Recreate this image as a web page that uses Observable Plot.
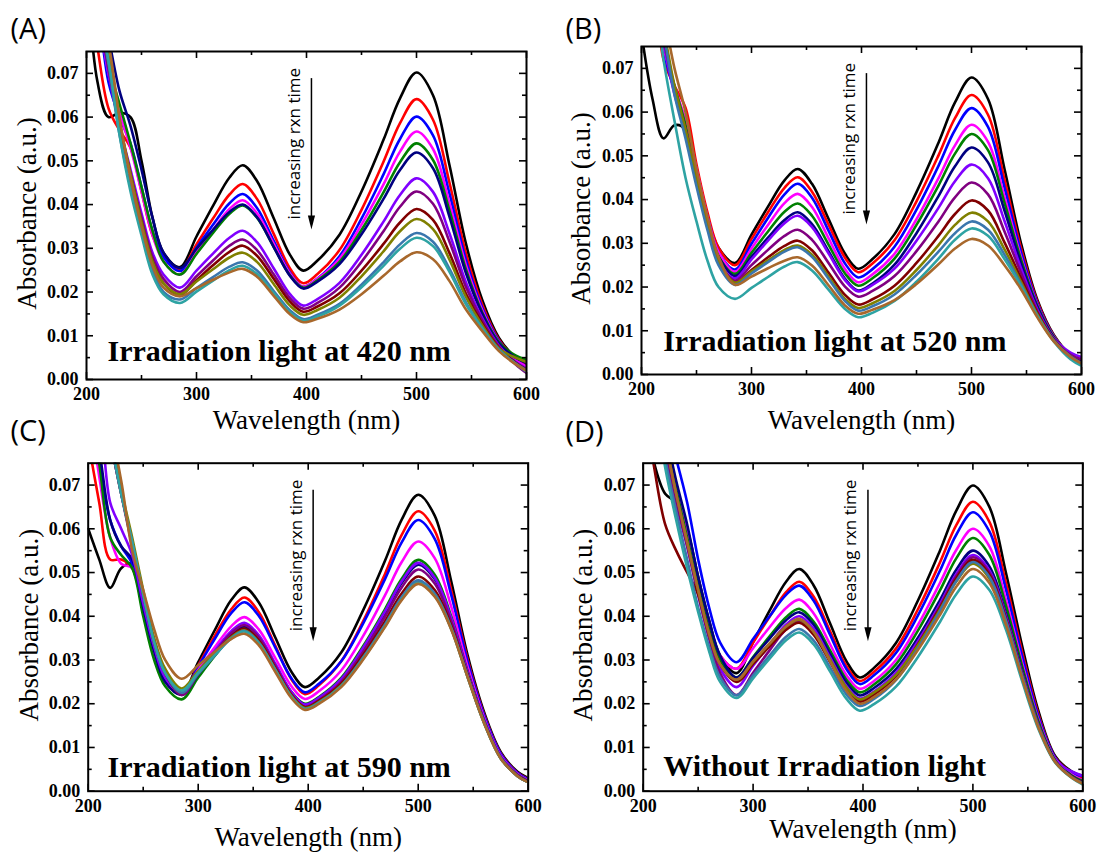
<!DOCTYPE html>
<html>
<head>
<meta charset="utf-8">
<script src="https://cdn.jsdelivr.net/npm/d3@7"></script>
<script src="https://cdn.jsdelivr.net/npm/@observablehq/plot@0.6"></script>
<style>
  html, body { margin: 0; padding: 0; background: #ffffff; }
  #fig { position: relative; width: 1099px; height: 852px; overflow: hidden; background: #ffffff; }
  #fig svg { position: absolute; }
</style>
</head>
<body>
<div id="fig"></div>
<script>
// Sampling wavelengths (nm) shared by every recorded spectrum
const wavelengths = [200,210,220,230,240,250,260,270,285,300,315,330,342,355,370,385,397,410,430,450,470,485,500,515,530,545,560,575,590,600];

// One colour per scan, in acquisition order (earliest first)
const seriesColors = ["#000000","#ff0000","#0000ff","#ff00ff","#008000","#000080","#8000ff","#800080","#800000","#808000","#3a76ad","#2ea3a3","#a8682c"];

// (A) irradiation at 420 nm — absorbance per scan
const spectraA = [
  [0.095,0.068,0.060,0.061,0.060,0.050,0.037,0.029,0.0257,0.0327,0.0397,0.0462,0.0490,0.0454,0.0370,0.0285,0.0249,0.0272,0.0331,0.0430,0.0548,0.0643,0.0702,0.0650,0.0490,0.0310,0.0180,0.0095,0.0050,0.0033],
  [0.095,0.076,0.062,0.057,0.053,0.043,0.033,0.028,0.0250,0.0309,0.0368,0.0423,0.0447,0.0413,0.0334,0.0254,0.0220,0.0241,0.0296,0.0388,0.0498,0.0586,0.0641,0.0594,0.0450,0.0288,0.0170,0.0091,0.0048,0.0031],
  [0.095,0.085,0.068,0.060,0.054,0.044,0.034,0.028,0.0248,0.0301,0.0354,0.0403,0.0424,0.0392,0.0318,0.0244,0.0212,0.0231,0.0282,0.0368,0.0469,0.0550,0.0601,0.0558,0.0425,0.0273,0.0163,0.0088,0.0046,0.0030],
  [0.095,0.085,0.070,0.061,0.053,0.043,0.033,0.027,0.0240,0.0291,0.0342,0.0390,0.0410,0.0380,0.0311,0.0242,0.0212,0.0230,0.0276,0.0354,0.0446,0.0521,0.0567,0.0527,0.0403,0.0261,0.0157,0.0085,0.0045,0.0029],
  [0.095,0.085,0.072,0.063,0.054,0.044,0.034,0.027,0.0240,0.0287,0.0335,0.0379,0.0398,0.0370,0.0304,0.0238,0.0210,0.0227,0.0269,0.0342,0.0428,0.0497,0.0540,0.0502,0.0386,0.0251,0.0152,0.0085,0.0055,0.0045],
  [0.095,0.088,0.078,0.066,0.058,0.048,0.037,0.029,0.0255,0.0299,0.0342,0.0383,0.0400,0.0371,0.0304,0.0237,0.0208,0.0224,0.0264,0.0332,0.0413,0.0479,0.0519,0.0483,0.0372,0.0243,0.0149,0.0082,0.0050,0.0038],
  [0.095,0.085,0.070,0.058,0.048,0.038,0.029,0.024,0.0210,0.0249,0.0288,0.0324,0.0340,0.0314,0.0255,0.0195,0.0169,0.0184,0.0221,0.0285,0.0361,0.0422,0.0460,0.0429,0.0334,0.0222,0.0139,0.0077,0.0041,0.0025],
  [0.095,0.085,0.071,0.058,0.047,0.037,0.028,0.023,0.0200,0.0236,0.0272,0.0306,0.0320,0.0296,0.0241,0.0186,0.0162,0.0175,0.0210,0.0269,0.0339,0.0395,0.0430,0.0402,0.0315,0.0211,0.0134,0.0075,0.0035,0.0015],
  [0.095,0.085,0.072,0.058,0.047,0.036,0.027,0.022,0.0193,0.0227,0.0261,0.0292,0.0306,0.0283,0.0231,0.0178,0.0155,0.0167,0.0197,0.0249,0.0310,0.0359,0.0390,0.0365,0.0289,0.0196,0.0127,0.0072,0.0039,0.0023],
  [0.095,0.085,0.074,0.059,0.047,0.036,0.027,0.022,0.0195,0.0224,0.0252,0.0279,0.0290,0.0269,0.0219,0.0169,0.0148,0.0159,0.0187,0.0236,0.0293,0.0339,0.0367,0.0344,0.0274,0.0188,0.0123,0.0071,0.0050,0.0040],
  [0.095,0.085,0.072,0.056,0.044,0.034,0.025,0.020,0.0183,0.0209,0.0234,0.0258,0.0268,0.0249,0.0203,0.0158,0.0138,0.0148,0.0173,0.0217,0.0268,0.0309,0.0335,0.0315,0.0253,0.0176,0.0117,0.0068,0.0037,0.0021],
  [0.095,0.085,0.073,0.056,0.043,0.033,0.024,0.0195,0.0175,0.0201,0.0226,0.0250,0.0260,0.0241,0.0198,0.0154,0.0135,0.0144,0.0169,0.0211,0.0260,0.0299,0.0324,0.0305,0.0246,0.0172,0.0116,0.0067,0.0036,0.0018],
  [0.095,0.088,0.077,0.060,0.046,0.035,0.026,0.021,0.0190,0.0209,0.0228,0.0245,0.0253,0.0235,0.0192,0.0149,0.0131,0.0139,0.0160,0.0195,0.0237,0.0270,0.0291,0.0275,0.0225,0.0160,0.0110,0.0065,0.0035,0.0020]
];

// (B) irradiation at 520 nm
const spectraB = [
  [0.078,0.063,0.054,0.057,0.056,0.046,0.036,0.029,0.0255,0.0320,0.0384,0.0444,0.0470,0.0436,0.0356,0.0276,0.0242,0.0264,0.0321,0.0417,0.0530,0.0622,0.0679,0.0630,0.0470,0.0300,0.0170,0.0090,0.0045,0.0030],
  [0.095,0.090,0.072,0.066,0.061,0.048,0.037,0.029,0.0250,0.0310,0.0371,0.0427,0.0451,0.0418,0.0343,0.0267,0.0234,0.0254,0.0307,0.0396,0.0501,0.0586,0.0639,0.0594,0.0446,0.0289,0.0166,0.0088,0.0044,0.0029],
  [0.095,0.090,0.074,0.065,0.058,0.046,0.036,0.028,0.0240,0.0299,0.0358,0.0412,0.0436,0.0404,0.0329,0.0254,0.0222,0.0241,0.0292,0.0377,0.0477,0.0559,0.0609,0.0566,0.0428,0.0280,0.0162,0.0087,0.0044,0.0029],
  [0.095,0.090,0.075,0.066,0.058,0.047,0.036,0.028,0.0235,0.0288,0.0342,0.0392,0.0413,0.0383,0.0312,0.0241,0.0211,0.0229,0.0276,0.0355,0.0449,0.0524,0.0571,0.0532,0.0406,0.0269,0.0158,0.0086,0.0044,0.0029],
  [0.095,0.090,0.076,0.066,0.057,0.046,0.035,0.027,0.0230,0.0278,0.0327,0.0372,0.0391,0.0363,0.0297,0.0231,0.0203,0.0220,0.0265,0.0342,0.0432,0.0505,0.0550,0.0513,0.0393,0.0263,0.0156,0.0085,0.0043,0.0028],
  [0.095,0.090,0.077,0.065,0.056,0.045,0.035,0.027,0.0225,0.0269,0.0313,0.0353,0.0371,0.0344,0.0282,0.0219,0.0192,0.0208,0.0251,0.0323,0.0408,0.0476,0.0519,0.0485,0.0375,0.0254,0.0153,0.0083,0.0043,0.0028],
  [0.095,0.090,0.076,0.064,0.056,0.045,0.034,0.026,0.0220,0.0263,0.0306,0.0346,0.0363,0.0337,0.0277,0.0216,0.0190,0.0205,0.0242,0.0306,0.0381,0.0442,0.0480,0.0449,0.0351,0.0243,0.0148,0.0082,0.0050,0.0040],
  [0.095,0.090,0.077,0.065,0.055,0.044,0.034,0.026,0.0215,0.0250,0.0285,0.0317,0.0331,0.0308,0.0255,0.0201,0.0178,0.0191,0.0225,0.0282,0.0350,0.0405,0.0439,0.0412,0.0327,0.0232,0.0144,0.0080,0.0045,0.0035],
  [0.095,0.090,0.078,0.065,0.056,0.044,0.034,0.026,0.0210,0.0239,0.0268,0.0294,0.0306,0.0284,0.0233,0.0182,0.0160,0.0172,0.0203,0.0255,0.0317,0.0367,0.0398,0.0375,0.0302,0.0220,0.0140,0.0079,0.0041,0.0026],
  [0.095,0.090,0.079,0.066,0.056,0.045,0.034,0.026,0.0210,0.0236,0.0261,0.0285,0.0295,0.0274,0.0224,0.0173,0.0152,0.0163,0.0191,0.0239,0.0296,0.0342,0.0370,0.0350,0.0286,0.0212,0.0137,0.0077,0.0041,0.0026],
  [0.095,0.090,0.078,0.064,0.054,0.043,0.033,0.025,0.0205,0.0231,0.0257,0.0281,0.0291,0.0269,0.0219,0.0168,0.0146,0.0156,0.0183,0.0228,0.0281,0.0323,0.0350,0.0331,0.0274,0.0206,0.0134,0.0077,0.0041,0.0026],
  [0.095,0.090,0.072,0.058,0.045,0.035,0.026,0.020,0.0173,0.0198,0.0223,0.0247,0.0257,0.0238,0.0194,0.0150,0.0131,0.0141,0.0168,0.0212,0.0265,0.0308,0.0334,0.0317,0.0264,0.0202,0.0133,0.0075,0.0035,0.0020],
  [0.095,0.090,0.082,0.070,0.060,0.047,0.036,0.027,0.0205,0.0224,0.0243,0.0260,0.0268,0.0249,0.0204,0.0158,0.0139,0.0148,0.0170,0.0207,0.0252,0.0288,0.0310,0.0295,0.0250,0.0195,0.0130,0.0075,0.0040,0.0025]
];

// (C) irradiation at 590 nm
const spectraC = [
  [0.060,0.053,0.0465,0.051,0.052,0.042,0.032,0.026,0.0222,0.0295,0.0368,0.0437,0.0466,0.0432,0.0352,0.0272,0.0238,0.0260,0.0317,0.0414,0.0528,0.0621,0.0678,0.0630,0.0480,0.0310,0.0180,0.0090,0.0045,0.0030],
  [0.080,0.066,0.053,0.053,0.051,0.041,0.031,0.025,0.0222,0.0288,0.0355,0.0416,0.0443,0.0410,0.0333,0.0255,0.0222,0.0243,0.0297,0.0389,0.0498,0.0586,0.0640,0.0596,0.0460,0.0301,0.0175,0.0087,0.0043,0.0028],
  [0.090,0.075,0.062,0.056,0.052,0.042,0.032,0.026,0.0222,0.0285,0.0348,0.0407,0.0432,0.0401,0.0329,0.0257,0.0226,0.0246,0.0297,0.0384,0.0486,0.0569,0.0620,0.0577,0.0449,0.0296,0.0173,0.0086,0.0042,0.0027],
  [0.090,0.072,0.058,0.052,0.051,0.041,0.031,0.025,0.0225,0.0277,0.0329,0.0377,0.0398,0.0370,0.0305,0.0239,0.0211,0.0229,0.0276,0.0355,0.0449,0.0524,0.0571,0.0533,0.0422,0.0284,0.0167,0.0082,0.0040,0.0025],
  [0.090,0.075,0.058,0.054,0.051,0.040,0.030,0.024,0.0210,0.0260,0.0309,0.0355,0.0375,0.0349,0.0288,0.0226,0.0200,0.0216,0.0259,0.0332,0.0417,0.0486,0.0529,0.0495,0.0400,0.0274,0.0162,0.0079,0.0038,0.0023],
  [0.090,0.078,0.062,0.056,0.053,0.042,0.032,0.025,0.0220,0.0267,0.0315,0.0359,0.0378,0.0351,0.0288,0.0225,0.0198,0.0214,0.0256,0.0326,0.0409,0.0476,0.0518,0.0485,0.0394,0.0271,0.0160,0.0078,0.0037,0.0022],
  [0.090,0.085,0.066,0.060,0.054,0.043,0.033,0.026,0.0225,0.0273,0.0321,0.0366,0.0385,0.0357,0.0292,0.0226,0.0198,0.0214,0.0256,0.0328,0.0412,0.0480,0.0522,0.0488,0.0396,0.0272,0.0161,0.0079,0.0037,0.0022],
  [0.090,0.090,0.080,0.068,0.056,0.045,0.034,0.027,0.0220,0.0268,0.0316,0.0361,0.0380,0.0352,0.0287,0.0221,0.0193,0.0209,0.0250,0.0319,0.0400,0.0466,0.0507,0.0475,0.0388,0.0268,0.0159,0.0077,0.0037,0.0022],
  [0.090,0.090,0.080,0.068,0.057,0.045,0.034,0.027,0.0225,0.0269,0.0313,0.0354,0.0372,0.0345,0.0282,0.0219,0.0192,0.0207,0.0246,0.0312,0.0389,0.0452,0.0491,0.0460,0.0379,0.0264,0.0157,0.0076,0.0036,0.0021],
  [0.090,0.090,0.082,0.069,0.058,0.046,0.035,0.028,0.0235,0.0275,0.0315,0.0352,0.0368,0.0341,0.0279,0.0217,0.0190,0.0204,0.0242,0.0305,0.0380,0.0441,0.0478,0.0449,0.0372,0.0261,0.0156,0.0075,0.0035,0.0020],
  [0.090,0.090,0.080,0.068,0.057,0.045,0.034,0.027,0.0225,0.0268,0.0310,0.0350,0.0367,0.0340,0.0278,0.0215,0.0188,0.0203,0.0241,0.0306,0.0382,0.0444,0.0482,0.0452,0.0374,0.0262,0.0156,0.0076,0.0035,0.0020],
  [0.090,0.090,0.081,0.068,0.057,0.045,0.034,0.027,0.0230,0.0271,0.0311,0.0349,0.0365,0.0338,0.0277,0.0215,0.0188,0.0202,0.0240,0.0303,0.0378,0.0439,0.0476,0.0447,0.0371,0.0260,0.0155,0.0075,0.0035,0.0020],
  [0.090,0.090,0.083,0.071,0.055,0.046,0.037,0.030,0.0257,0.0288,0.0319,0.0348,0.0360,0.0334,0.0273,0.0212,0.0186,0.0200,0.0238,0.0301,0.0376,0.0437,0.0474,0.0445,0.0370,0.0260,0.0155,0.0075,0.0035,0.0020]
];

// (D) kept in the dark
const spectraD = [
  [0.090,0.075,0.068,0.066,0.060,0.049,0.039,0.031,0.0270,0.0341,0.0413,0.0479,0.0508,0.0471,0.0384,0.0297,0.0260,0.0282,0.0339,0.0436,0.0550,0.0642,0.0699,0.0650,0.0500,0.0330,0.0180,0.0080,0.0045,0.0035],
  [0.090,0.090,0.078,0.068,0.059,0.048,0.038,0.031,0.0280,0.0340,0.0399,0.0455,0.0479,0.0445,0.0366,0.0286,0.0252,0.0273,0.0326,0.0416,0.0523,0.0609,0.0662,0.0616,0.0477,0.0316,0.0173,0.0077,0.0042,0.0031],
  [0.090,0.090,0.085,0.076,0.066,0.053,0.042,0.034,0.0295,0.0348,0.0400,0.0449,0.0470,0.0436,0.0358,0.0279,0.0245,0.0265,0.0316,0.0402,0.0504,0.0587,0.0638,0.0594,0.0462,0.0307,0.0168,0.0076,0.0041,0.0035],
  [0.090,0.090,0.080,0.069,0.059,0.048,0.038,0.031,0.0280,0.0327,0.0375,0.0419,0.0438,0.0407,0.0336,0.0265,0.0234,0.0252,0.0300,0.0380,0.0476,0.0552,0.0600,0.0560,0.0438,0.0292,0.0161,0.0073,0.0038,0.0025],
  [0.090,0.090,0.080,0.069,0.058,0.047,0.037,0.030,0.0260,0.0307,0.0354,0.0398,0.0417,0.0388,0.0322,0.0255,0.0226,0.0244,0.0290,0.0367,0.0459,0.0533,0.0579,0.0540,0.0425,0.0284,0.0157,0.0071,0.0036,0.0023],
  [0.090,0.090,0.082,0.071,0.061,0.049,0.039,0.031,0.0260,0.0305,0.0349,0.0391,0.0409,0.0381,0.0314,0.0248,0.0219,0.0236,0.0279,0.0351,0.0437,0.0507,0.0550,0.0514,0.0407,0.0273,0.0151,0.0069,0.0034,0.0020],
  [0.090,0.090,0.078,0.066,0.056,0.045,0.035,0.028,0.0238,0.0287,0.0335,0.0381,0.0400,0.0372,0.0306,0.0240,0.0212,0.0228,0.0271,0.0343,0.0428,0.0497,0.0540,0.0505,0.0401,0.0269,0.0149,0.0069,0.0045,0.0035],
  [0.090,0.090,0.078,0.066,0.056,0.045,0.035,0.027,0.0220,0.0271,0.0322,0.0370,0.0390,0.0362,0.0298,0.0233,0.0205,0.0222,0.0264,0.0337,0.0423,0.0492,0.0535,0.0500,0.0398,0.0267,0.0148,0.0068,0.0033,0.0019],
  [0.090,0.074,0.061,0.055,0.050,0.045,0.036,0.029,0.0250,0.0291,0.0331,0.0369,0.0385,0.0358,0.0295,0.0232,0.0205,0.0221,0.0263,0.0335,0.0419,0.0487,0.0529,0.0495,0.0394,0.0265,0.0147,0.0068,0.0033,0.0019],
  [0.090,0.090,0.080,0.068,0.057,0.046,0.036,0.029,0.0255,0.0296,0.0337,0.0376,0.0392,0.0365,0.0301,0.0237,0.0210,0.0226,0.0266,0.0334,0.0415,0.0480,0.0520,0.0486,0.0388,0.0261,0.0146,0.0067,0.0032,0.0018],
  [0.090,0.090,0.076,0.064,0.053,0.042,0.033,0.026,0.0219,0.0265,0.0310,0.0353,0.0371,0.0345,0.0283,0.0221,0.0195,0.0211,0.0254,0.0327,0.0412,0.0481,0.0524,0.0490,0.0391,0.0263,0.0146,0.0067,0.0032,0.0018],
  [0.090,0.090,0.074,0.062,0.051,0.041,0.032,0.025,0.0213,0.0258,0.0303,0.0345,0.0363,0.0336,0.0274,0.0211,0.0184,0.0199,0.0239,0.0307,0.0387,0.0451,0.0491,0.0460,0.0370,0.0250,0.0140,0.0065,0.0030,0.0015],
  [0.090,0.090,0.080,0.068,0.057,0.046,0.036,0.029,0.0255,0.0297,0.0338,0.0377,0.0394,0.0365,0.0297,0.0229,0.0200,0.0215,0.0255,0.0323,0.0403,0.0468,0.0508,0.0476,0.0381,0.0257,0.0143,0.0066,0.0031,0.0017]
];

// Axis ticks
const xMajor = [200, 300, 400, 500, 600];
const xMinor = [250, 350, 450, 550];
const yMajor = [0, 0.01, 0.02, 0.03, 0.04, 0.05, 0.06, 0.07];
const yMinor = [0.005, 0.015, 0.025, 0.035, 0.045, 0.055, 0.065];

// Panel texts
const panelTags = ["(A)", "(B)", "(C)", "(D)"];
const panelTitles = ["Irradiation light at 420 nm", "Irradiation light at 520 nm", "Irradiation light at 590 nm", "Without Irradiation light"];
const xTitle = "Wavelength (nm)";
const yTitle = "Absorbance (a.u.)";

// "increasing rxn time" note: label centre (nm, a.u.) and arrow (nm, from a.u., to a.u.)
const noteText = ["increasing rxn time"];
const noteAt = [389, 0.0539];
const arrowSpan = [404.5, 0.0688, 0.0343];

// Placement of each panel on the page
const layout = [
  {left: 0,   top: 0,   width: 549, ml: 86,   mt: 51,   mr: 23,   mb: 47,   yTitleDx: -59, xTitleDy: 49,   titleDx: 21,   titleDy: -19,   tagDx: -76,   tagDy: -12.5},
  {left: 549, top: 0,   width: 550, ml: 92,   mt: 46,   mr: 18,   mb: 52,   yTitleDx: -60, xTitleDy: 54,   titleDx: 21.7, titleDy: -24,   tagDx: -76,   tagDy: -7.5},
  {left: 0,   top: 426, width: 549, ml: 87.7, mt: 36.7, mr: 21.3, mb: 61.3, yTitleDx: -59, xTitleDy: 54.5, titleDx: 19.3, titleDy: -14,   tagDx: -77.7, tagDy: -22},
  {left: 549, top: 426, width: 550, ml: 93.7, mt: 36.7, mr: 16.7, mb: 61.3, yTitleDx: -60, xTitleDy: 47,   titleDx: 20,   titleDy: -15.7, tagDx: -77.7, tagDy: -21}
];
const panelHeight = 426;

// Filled, narrow arrowhead whose tip sits on the anchor point
const arrowHead = {
  draw(context) {
    context.moveTo(0, 0);
    context.lineTo(-3.6, -14);
    context.lineTo(3.6, -14);
    context.closePath();
  }
};

const serif = "Liberation Serif";
const sans = "Open Sans";

function drawPanel(spectra, p) {
  const L = layout[p];
  const innerW = L.width - L.ml - L.mr;
  const innerH = panelHeight - L.mt - L.mb;
  const major = 7, minor = 4;

  const curves = spectra.map((values, i) =>
    Plot.line(values, {
      x: (d, j) => wavelengths[j],
      y: d => d,
      stroke: seriesColors[i],
      strokeWidth: 2.6,
      curve: "catmull-rom",
      clip: true
    })
  );

  return Plot.plot({
    width: L.width,
    height: panelHeight,
    marginLeft: L.ml,
    marginRight: L.mr,
    marginTop: L.mt,
    marginBottom: L.mb,
    style: {fontFamily: serif, color: "#000", background: "transparent", overflow: "visible"},
    x: {domain: [200, 600]},
    y: {domain: [0, 0.075]},
    marks: [
      ...curves,
      // inward ticks on all four sides
      Plot.tickX(xMajor, {x: d => d, insetTop: innerH - major, strokeWidth: 1.6}),
      Plot.tickX(xMajor, {x: d => d, insetBottom: innerH - major, strokeWidth: 1.6}),
      Plot.tickX(xMinor, {x: d => d, insetTop: innerH - minor, strokeWidth: 1.6}),
      Plot.tickX(xMinor, {x: d => d, insetBottom: innerH - minor, strokeWidth: 1.6}),
      Plot.tickY(yMajor, {y: d => d, insetRight: innerW - major, strokeWidth: 1.6}),
      Plot.tickY(yMajor, {y: d => d, insetLeft: innerW - major, strokeWidth: 1.6}),
      Plot.tickY(yMinor, {y: d => d, insetRight: innerW - minor, strokeWidth: 1.6}),
      Plot.tickY(yMinor, {y: d => d, insetLeft: innerW - minor, strokeWidth: 1.6}),
      Plot.frame({stroke: "#000", strokeWidth: 2}),
      // tick labels
      Plot.axisX({ticks: xMajor, tickSize: 0, tickPadding: 8, tickFormat: d => String(d), label: null,
        fontFamily: serif, fontSize: 18, fontWeight: "bold"}),
      Plot.axisY({ticks: yMajor, tickSize: 0, tickPadding: 8, tickFormat: d3.format(".2f"), label: null,
        fontFamily: serif, fontSize: 18, fontWeight: "bold"}),
      // axis titles
      Plot.text([xTitle], {frameAnchor: "bottom", dy: L.xTitleDy, textAnchor: "middle", lineAnchor: "bottom",
        fontFamily: serif, fontSize: 27}),
      Plot.text([yTitle], {frameAnchor: "left", dx: L.yTitleDx, dy: -2, rotate: -90, textAnchor: "middle", lineAnchor: "middle",
        fontFamily: serif, fontSize: 27}),
      // panel caption inside the frame
      Plot.text([panelTitles[p]], {frameAnchor: "bottom-left", dx: L.titleDx, dy: L.titleDy,
        textAnchor: "start", lineAnchor: "bottom", fontFamily: serif, fontSize: 30, fontWeight: "bold"}),
      // panel tag
      Plot.text([panelTags[p]], {frameAnchor: "top-left", dx: L.tagDx, dy: L.tagDy,
        textAnchor: "start", lineAnchor: "bottom", fontFamily: sans, fontSize: 29}),
      // reaction-time arrow and its label
      Plot.ruleX([arrowSpan[0]], {x: d => d, y1: () => arrowSpan[1], y2: () => arrowSpan[2] + 0.002, strokeWidth: 1.5}),
      Plot.dot([arrowSpan[0]], {x: d => d, y: () => arrowSpan[2], symbol: arrowHead, fill: "#000", stroke: "none"}),
      Plot.text(noteText, {x: () => noteAt[0], y: () => noteAt[1], rotate: -90, textAnchor: "middle", lineAnchor: "middle",
        fontFamily: sans, fontSize: 17})
    ]
  });
}

const fig = document.getElementById("fig");
[spectraA, spectraB, spectraC, spectraD].forEach((spectra, p) => {
  const svg = drawPanel(spectra, p);
  svg.style.left = layout[p].left + "px";
  svg.style.top = layout[p].top + "px";
  fig.appendChild(svg);
});
</script>
</body>
</html>
